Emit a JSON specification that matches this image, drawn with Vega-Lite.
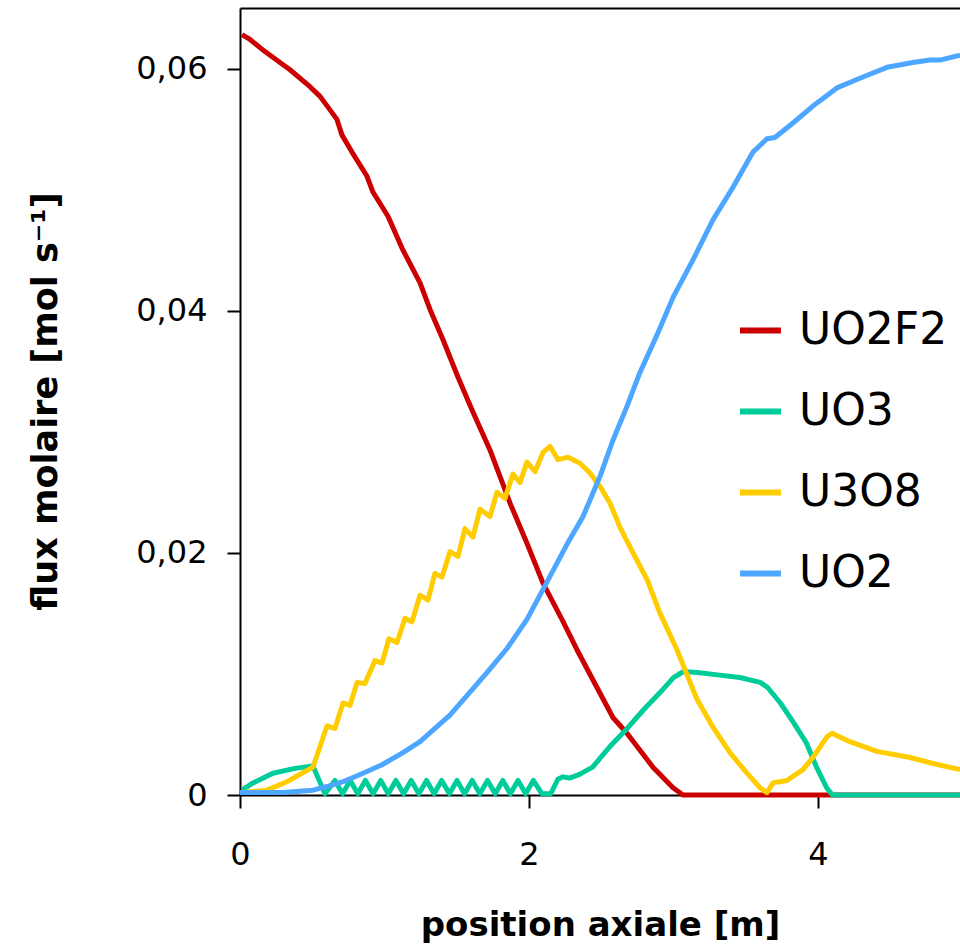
{
  "$schema": "https://vega.github.io/schema/vega-lite/v6.json",
  "width": 720,
  "height": 787,
  "autosize": {"type": "none"},
  "padding": {"left": 240, "top": 8, "right": 0, "bottom": 156},
  "background": "white",
  "config": {"view": {"stroke": null}, "font": "DejaVu Sans"},
  "datasets": {
    "flux": [
      {"s":"UO2F2","x":0.014,"y":0.0628},{"s":"UO2F2","x":0.069,"y":0.0624},{"s":"UO2F2","x":0.173,"y":0.0614},{"s":"UO2F2","x":0.277,"y":0.0605},{"s":"UO2F2","x":0.346,"y":0.0599},{"s":"UO2F2","x":0.484,"y":0.0585},{"s":"UO2F2","x":0.554,"y":0.0577},{"s":"UO2F2","x":0.671,"y":0.0558},{"s":"UO2F2","x":0.706,"y":0.0545},{"s":"UO2F2","x":0.775,"y":0.0531},{"s":"UO2F2","x":0.879,"y":0.0511},{"s":"UO2F2","x":0.92,"y":0.0498},{"s":"UO2F2","x":1.024,"y":0.0478},{"s":"UO2F2","x":1.128,"y":0.045},{"s":"UO2F2","x":1.246,"y":0.0423},{"s":"UO2F2","x":1.315,"y":0.0401},{"s":"UO2F2","x":1.405,"y":0.0376},{"s":"UO2F2","x":1.509,"y":0.0345},{"s":"UO2F2","x":1.606,"y":0.0318},{"s":"UO2F2","x":1.73,"y":0.0285},{"s":"UO2F2","x":1.869,"y":0.0241},{"s":"UO2F2","x":1.986,"y":0.0208},{"s":"UO2F2","x":2.097,"y":0.0175},{"s":"UO2F2","x":2.228,"y":0.0145},{"s":"UO2F2","x":2.332,"y":0.012},{"s":"UO2F2","x":2.443,"y":0.0095},{"s":"UO2F2","x":2.581,"y":0.0064},{"s":"UO2F2","x":2.678,"y":0.0051},{"s":"UO2F2","x":2.858,"y":0.0023},{"s":"UO2F2","x":2.997,"y":0.0006},{"s":"UO2F2","x":3.066,"y":0.0},{"s":"UO2F2","x":4.983,"y":0.0},

      {"s":"UO3","x":0.014,"y":0.0004},{"s":"UO3","x":0.09,"y":0.001},{"s":"UO3","x":0.228,"y":0.0018},{"s":"UO3","x":0.38,"y":0.0022},{"s":"UO3","x":0.505,"y":0.0024},{"s":"UO3","x":0.588,"y":0.0001},
      {"s":"UO3","x":0.657,"y":0.0012},{"s":"UO3","x":0.71,"y":0.0001},{"s":"UO3","x":0.763,"y":0.0012},{"s":"UO3","x":0.815,"y":0.0001},{"s":"UO3","x":0.868,"y":0.0012},{"s":"UO3","x":0.921,"y":0.0001},{"s":"UO3","x":0.974,"y":0.0012},{"s":"UO3","x":1.026,"y":0.0001},{"s":"UO3","x":1.079,"y":0.0012},{"s":"UO3","x":1.132,"y":0.0001},{"s":"UO3","x":1.185,"y":0.0012},{"s":"UO3","x":1.238,"y":0.0001},{"s":"UO3","x":1.291,"y":0.0012},{"s":"UO3","x":1.343,"y":0.0001},{"s":"UO3","x":1.396,"y":0.0012},{"s":"UO3","x":1.449,"y":0.0001},{"s":"UO3","x":1.502,"y":0.0012},{"s":"UO3","x":1.554,"y":0.0001},{"s":"UO3","x":1.607,"y":0.0012},{"s":"UO3","x":1.66,"y":0.0001},{"s":"UO3","x":1.713,"y":0.0012},{"s":"UO3","x":1.766,"y":0.0001},{"s":"UO3","x":1.819,"y":0.0012},{"s":"UO3","x":1.871,"y":0.0001},{"s":"UO3","x":1.924,"y":0.0012},{"s":"UO3","x":1.977,"y":0.0001},{"s":"UO3","x":2.03,"y":0.0012},{"s":"UO3","x":2.09,"y":0.0001},{"s":"UO3","x":2.15,"y":0.0001},{"s":"UO3","x":2.2,"y":0.0013},
      {"s":"UO3","x":2.235,"y":0.0015},{"s":"UO3","x":2.28,"y":0.0014},{"s":"UO3","x":2.35,"y":0.0017},{"s":"UO3","x":2.44,"y":0.0023},{"s":"UO3","x":2.56,"y":0.004},{"s":"UO3","x":2.68,"y":0.0055},{"s":"UO3","x":2.79,"y":0.007},{"s":"UO3","x":2.91,"y":0.0085},{"s":"UO3","x":3.0,"y":0.0097},{"s":"UO3","x":3.07,"y":0.0102},{"s":"UO3","x":3.18,"y":0.0101},{"s":"UO3","x":3.32,"y":0.0099},{"s":"UO3","x":3.46,"y":0.0097},{"s":"UO3","x":3.6,"y":0.0093},{"s":"UO3","x":3.65,"y":0.0089},{"s":"UO3","x":3.74,"y":0.0076},{"s":"UO3","x":3.83,"y":0.006},{"s":"UO3","x":3.92,"y":0.0043},{"s":"UO3","x":3.99,"y":0.0023},{"s":"UO3","x":4.06,"y":0.0006},{"s":"UO3","x":4.1,"y":0.0},{"s":"UO3","x":4.983,"y":0.0},

      {"s":"U3O8","x":0.014,"y":0.0002},{"s":"U3O8","x":0.187,"y":0.0004},{"s":"U3O8","x":0.325,"y":0.0011},{"s":"U3O8","x":0.505,"y":0.0023},{"s":"U3O8","x":0.602,"y":0.0057},{"s":"U3O8","x":0.657,"y":0.0055},{"s":"U3O8","x":0.713,"y":0.0076},{"s":"U3O8","x":0.761,"y":0.0074},{"s":"U3O8","x":0.81,"y":0.0093},{"s":"U3O8","x":0.865,"y":0.0092},{"s":"U3O8","x":0.934,"y":0.0111},{"s":"U3O8","x":0.983,"y":0.0109},{"s":"U3O8","x":1.031,"y":0.0129},{"s":"U3O8","x":1.087,"y":0.0126},{"s":"U3O8","x":1.142,"y":0.0146},{"s":"U3O8","x":1.19,"y":0.0143},{"s":"U3O8","x":1.246,"y":0.0165},{"s":"U3O8","x":1.301,"y":0.0161},{"s":"U3O8","x":1.349,"y":0.0183},{"s":"U3O8","x":1.398,"y":0.018},{"s":"U3O8","x":1.453,"y":0.0201},{"s":"U3O8","x":1.509,"y":0.0197},{"s":"U3O8","x":1.557,"y":0.022},{"s":"U3O8","x":1.612,"y":0.0213},{"s":"U3O8","x":1.661,"y":0.0236},{"s":"U3O8","x":1.73,"y":0.023},{"s":"U3O8","x":1.779,"y":0.025},{"s":"U3O8","x":1.834,"y":0.0245},{"s":"U3O8","x":1.889,"y":0.0265},{"s":"U3O8","x":1.938,"y":0.0258},{"s":"U3O8","x":1.986,"y":0.0275},{"s":"U3O8","x":2.042,"y":0.0267},{"s":"U3O8","x":2.097,"y":0.0283},{"s":"U3O8","x":2.145,"y":0.0288},{"s":"U3O8","x":2.201,"y":0.0277},{"s":"U3O8","x":2.27,"y":0.0279},{"s":"U3O8","x":2.353,"y":0.0274},{"s":"U3O8","x":2.422,"y":0.0266},{"s":"U3O8","x":2.491,"y":0.0255},{"s":"U3O8","x":2.561,"y":0.0241},{"s":"U3O8","x":2.63,"y":0.0221},{"s":"U3O8","x":2.72,"y":0.02},{"s":"U3O8","x":2.817,"y":0.0178},{"s":"U3O8","x":2.907,"y":0.015},{"s":"U3O8","x":3.024,"y":0.012},{"s":"U3O8","x":3.163,"y":0.0079},{"s":"U3O8","x":3.273,"y":0.0056},{"s":"U3O8","x":3.391,"y":0.0035},{"s":"U3O8","x":3.509,"y":0.0018},{"s":"U3O8","x":3.599,"y":0.0006},{"s":"U3O8","x":3.647,"y":0.0002},{"s":"U3O8","x":3.689,"y":0.001},{"s":"U3O8","x":3.785,"y":0.0012},{"s":"U3O8","x":3.896,"y":0.0021},{"s":"U3O8","x":3.965,"y":0.0031},{"s":"U3O8","x":4.062,"y":0.0048},{"s":"U3O8","x":4.097,"y":0.0051},{"s":"U3O8","x":4.221,"y":0.0044},{"s":"U3O8","x":4.408,"y":0.0036},{"s":"U3O8","x":4.637,"y":0.0031},{"s":"U3O8","x":4.796,"y":0.0026},{"s":"U3O8","x":4.983,"y":0.0021},

      {"s":"UO2","x":0.0,"y":0.0002},{"s":"UO2","x":0.298,"y":0.0002},{"s":"UO2","x":0.505,"y":0.0004},{"s":"UO2","x":0.602,"y":0.0007},{"s":"UO2","x":0.713,"y":0.0011},{"s":"UO2","x":0.851,"y":0.0018},{"s":"UO2","x":0.983,"y":0.0025},{"s":"UO2","x":1.128,"y":0.0035},{"s":"UO2","x":1.246,"y":0.0044},{"s":"UO2","x":1.453,"y":0.0066},{"s":"UO2","x":1.709,"y":0.0101},{"s":"UO2","x":1.848,"y":0.0121},{"s":"UO2","x":1.986,"y":0.0145},{"s":"UO2","x":2.125,"y":0.0176},{"s":"UO2","x":2.263,"y":0.0207},{"s":"UO2","x":2.374,"y":0.023},{"s":"UO2","x":2.491,"y":0.0263},{"s":"UO2","x":2.581,"y":0.0293},{"s":"UO2","x":2.678,"y":0.0321},{"s":"UO2","x":2.768,"y":0.0349},{"s":"UO2","x":2.886,"y":0.038},{"s":"UO2","x":2.997,"y":0.0411},{"s":"UO2","x":3.135,"y":0.0442},{"s":"UO2","x":3.273,"y":0.0475},{"s":"UO2","x":3.412,"y":0.0502},{"s":"UO2","x":3.55,"y":0.0531},{"s":"UO2","x":3.647,"y":0.0542},{"s":"UO2","x":3.702,"y":0.0543},{"s":"UO2","x":3.827,"y":0.0555},{"s":"UO2","x":3.965,"y":0.0569},{"s":"UO2","x":4.131,"y":0.0584},{"s":"UO2","x":4.311,"y":0.0593},{"s":"UO2","x":4.478,"y":0.0601},{"s":"UO2","x":4.657,"y":0.0605},{"s":"UO2","x":4.775,"y":0.0607},{"s":"UO2","x":4.844,"y":0.0607},{"s":"UO2","x":4.983,"y":0.0611}
    ]
  },
  "data": {"name": "flux"},
  "encoding": {
    "y": {
      "field": "y", "type": "quantitative",
      "scale": {"domain": [0, 0.065], "nice": false},
      "axis": {
        "values": [0, 0.02, 0.04, 0.06],
        "labelExpr": "datum.value == 0 ? '0' : replace(format(datum.value, '.2f'), '.', ',')",
        "title": "flux molaire [mol s⁻¹]", "grid": false,
        "domainColor": "black", "domainWidth": 2, "tickColor": "black", "tickWidth": 2, "tickSize": 13,
        "labelFontSize": 32, "labelColor": "black", "labelPadding": 20, "labelFont": "DejaVu Sans",
        "titleFontSize": 35, "titleFontWeight": "bold", "titleColor": "black", "titleFont": "DejaVu Sans",
        "titleX": -195, "titleY": 393, "titleAngle": -90, "titleBaseline": "middle", "titleAlign": "center"
      }
    },
    "color": {"field": "s", "type": "nominal", "scale": {"domain": ["UO2F2", "UO3", "U3O8", "UO2"], "range": ["#CC0000", "#00CC99", "#FFCC00", "#4DA6FF"]},
      "legend": {"orient": "none", "legendX": 497, "legendY": 299, "title": null, "symbolType": "stroke", "symbolStrokeWidth": 6, "symbolSize": 1681, "labelFontSize": 44, "labelFont": "DejaVu Sans", "labelColor": "black", "rowPadding": 35, "labelOffset": 15, "labelLimit": 400}}
  },
  "layer": [
    {
      "transform": [{"filter": "datum.s === 'UO2F2'"}],
      "mark": {"type": "line", "strokeWidth": 5, "strokeJoin": "round"},
      "encoding": {
        "x": {
          "field": "x", "type": "quantitative",
          "scale": {"domain": [0, 4.983], "nice": false, "zero": false},
          "axis": {"orient": "top", "labels": false, "ticks": false, "title": null, "grid": false, "domainColor": "black", "domainWidth": 2}
        }
      }
    },
    {
      "encoding": {
        "x": {
          "field": "x", "type": "quantitative",
          "scale": {"domain": [0, 4.983], "nice": false, "zero": false},
          "axis": {
            "orient": "bottom", "values": [0, 2, 4], "title": "position axiale [m]", "grid": false,
            "domainColor": "black", "domainWidth": 2, "tickColor": "black", "tickWidth": 2, "tickSize": 13,
            "labelFontSize": 32, "labelColor": "black", "labelPadding": 31, "labelFlush": false, "labelFont": "DejaVu Sans",
            "titleFontSize": 34, "titleFontWeight": "bold", "titleColor": "black", "titleFont": "DejaVu Sans",
            "titleY": 130, "titleBaseline": "middle"
          }
        }
      },
      "layer": [
        {"transform": [{"filter": "datum.s === 'UO3'"}], "mark": {"type": "line", "strokeWidth": 5, "strokeJoin": "round"}},
        {"transform": [{"filter": "datum.s === 'U3O8'"}], "mark": {"type": "line", "strokeWidth": 5, "strokeJoin": "round"}},
        {"transform": [{"filter": "datum.s === 'UO2'"}], "mark": {"type": "line", "strokeWidth": 5, "strokeJoin": "round"}}
      ]
    }
  ],
  "resolve": {"axis": {"x": "independent"}}
}
